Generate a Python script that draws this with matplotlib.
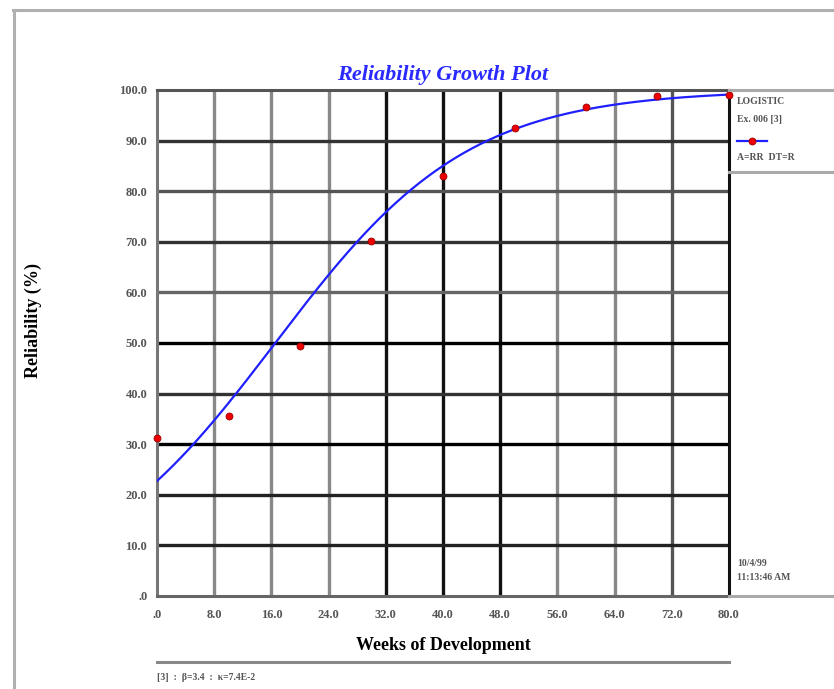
import numpy as np
import matplotlib
matplotlib.use("Agg")
import matplotlib.pyplot as plt
from matplotlib.lines import Line2D

# observed data
weeks = [0, 10, 20, 30, 40, 50, 60, 70, 80]
reliability = [31.2, 35.6, 49.4, 70.2, 83.0, 92.5, 96.6, 98.8, 99.0]

# logistic model parameters (from footnote)
b_par = 3.4
k_par = 7.4e-2

x_ticks = [0, 8, 16, 24, 32, 40, 48, 56, 64, 72, 80]
x_labels = [".0", "8.0", "16.0", "24.0", "32.0", "40.0", "48.0", "56.0", "64.0", "72.0", "80.0"]
y_ticks = [0, 10, 20, 30, 40, 50, 60, 70, 80, 90, 100]
y_labels = [".0", "10.0", "20.0", "30.0", "40.0", "50.0", "60.0", "70.0", "80.0", "90.0", "100.0"]

vgrid_col = ["#888888", "#888888", "#888888", "#111111", "#111111", "#111111", "#888888", "#888888", "#555555"]
hgrid_col = ["#222222", "#222222", "#000000", "#333333", "#000000", "#666666", "#333333", "#555555", "#333333"]

plt.rcParams['font.family'] = ['Liberation Serif', 'DejaVu Serif']

fig = plt.figure(figsize=(8.34, 6.89), dpi=100)
W, H = 834.0, 689.0

def fx(px):
    return px / W

def fy(py):
    return 1 - py / H

ax = fig.add_axes([fx(157), fy(596), fx(729) - fx(157), fy(90) - fy(596)])
ax.set_xlim(0, 80)
ax.set_ylim(0, 100)

for xv, c in zip(x_ticks[1:-1], vgrid_col):
    ax.axvline(xv, color=c, lw=2.4, zorder=1)
for yv, c in zip(y_ticks[1:-1], hgrid_col):
    ax.axhline(yv, color=c, lw=2.4, zorder=1)

tt = np.linspace(0, 80, 300)
fit = 100.0 / (1 + b_par * np.exp(-k_par * tt))
ax.plot(tt, fit, color="#2020ff", lw=1.6, zorder=3)
ax.plot(weeks, reliability, ls="none", marker="o", ms=5, mfc="#ee0000",
        mec="#990000", mew=0.6, zorder=4, clip_on=False)

ax.set_xticks(x_ticks)
ax.set_xticklabels(x_labels, fontsize=9, fontweight="bold", color="#555555")
ax.set_yticks(y_ticks)
ax.set_yticklabels(y_labels, fontsize=9, fontweight="bold", color="#555555")
ax.tick_params(axis="x", length=0, pad=9)
ax.tick_params(axis="y", length=0, pad=7)

for side, c in [("left", "#777777"), ("bottom", "#666666"), ("right", "#111111"), ("top", "#555555")]:
    ax.spines[side].set_color(c)
    ax.spines[side].set_linewidth(2.2)

ax.set_title("Reliability Growth Plot", fontsize=16, fontweight="bold", style="italic",
             color="#2a2aff", pad=7)
ax.set_xlabel("Weeks of Development", fontsize=13, fontweight="bold", labelpad=12)
fig.text(fx(33), fy(320), "Reliability (%)", rotation=90, fontsize=13, fontweight="bold",
         ha="center", va="center")

# outer frame lines
fig.add_artist(Line2D([fx(13), 1], [fy(10), fy(10)], color="#b0b0b0", lw=2.2))
fig.add_artist(Line2D([fx(14), fx(14)], [fy(10), 0], color="#b0b0b0", lw=2.2))

# legend box on the right
fig.add_artist(Line2D([fx(729), 1], [fy(90), fy(90)], color="#aaaaaa", lw=2.2))
fig.add_artist(Line2D([fx(729), 1], [fy(172), fy(172)], color="#aaaaaa", lw=2.2))
fig.add_artist(Line2D([fx(729), 1], [fy(596), fy(596)], color="#aaaaaa", lw=2.2))
fig.text(fx(737), fy(102), "LOGISTIC", fontsize=7, fontweight="bold", color="#555555", va="center")
fig.text(fx(737), fy(119), "Ex. 006 [3]", fontsize=7, fontweight="bold", color="#555555", va="center")
fig.add_artist(Line2D([fx(737), fx(767)], [fy(141), fy(141)], color="#2020ff", lw=1.6))
fig.add_artist(Line2D([fx(752)], [fy(141)], marker="o", ms=5, mfc="#ee0000", mec="#990000",
                      mew=0.6, ls="none"))
fig.text(fx(737), fy(157), "A=RR  DT=R", fontsize=7, fontweight="bold", color="#555555", va="center")
fig.text(fx(737), fy(563), "10/4/99", fontsize=7, fontweight="bold", color="#555555", va="center")
fig.text(fx(737), fy(578), "11:13:46 AM", fontsize=7, fontweight="bold", color="#555555", va="center")

# footnote
fig.add_artist(Line2D([fx(157), fx(729)], [fy(662), fy(662)], color="#888888", lw=2.2))
fig.text(fx(157), fy(677), "[3]  :  \u03b2=3.4  :  \u03ba=7.4E-2", fontsize=7, fontweight="bold",
         color="#555555", va="center")

fig.savefig("out.png", dpi=100)
